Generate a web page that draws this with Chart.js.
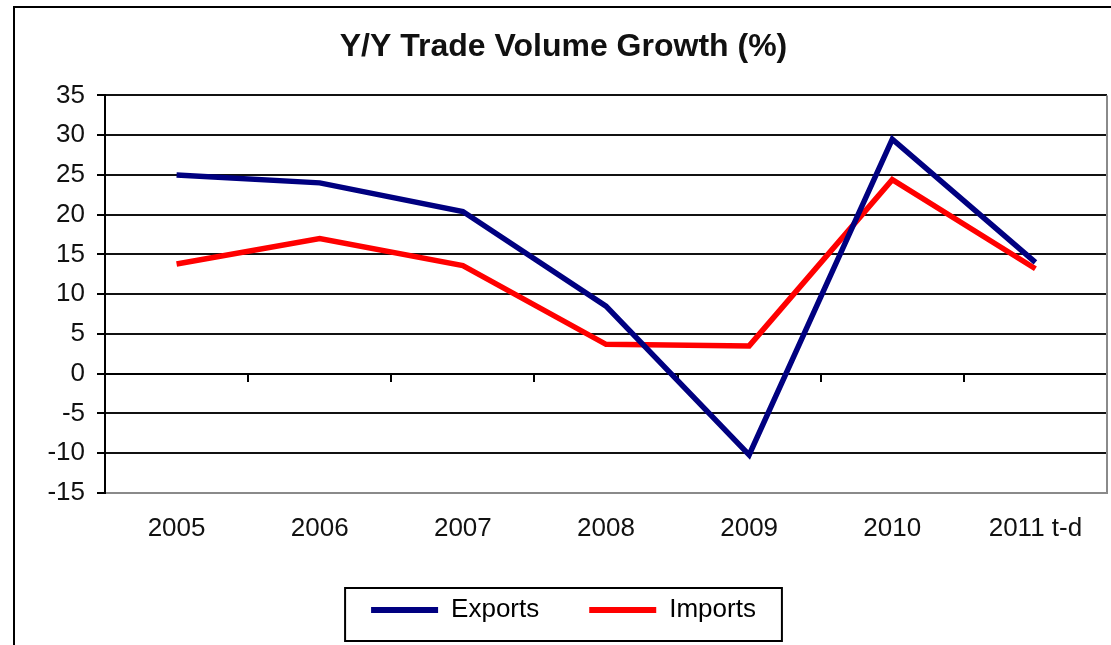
<!DOCTYPE html>
<html>
<head>
<meta charset="utf-8">
<script src="https://cdn.jsdelivr.net/npm/chart.js@4/dist/chart.umd.min.js"></script>
<style>
  html, body { margin: 0; padding: 0; background: #fff; }
  canvas { display: block; }
</style>
</head>
<body>
<canvas id="tradeChart" width="1111" height="645"></canvas>
<script>
// values
const years = ['2005', '2006', '2007', '2008', '2009', '2010', '2011 t-d'];
const exportsGrowth = [25, 24, 20.4, 8.5, -10.2, 29.5, 14];
const importsGrowth = [13.8, 17, 13.6, 3.7, 3.5, 24.4, 13.2];
const yMin = -15;
const yMax = 35;
const yStep = 5;

const FONT = "'Liberation Sans', Arial, sans-serif";

// outer frame, plot border on the right, legend box
const framePlugin = {
    id: 'frame',
    beforeDraw(chart) {
        const c = chart.ctx;
        c.save();
        c.fillStyle = '#fff';
        c.fillRect(0, 0, chart.width, chart.height);
        c.strokeStyle = '#000';
        c.lineWidth = 2;
        c.strokeRect(14, 7, chart.width + 20, chart.height + 20);
        c.restore();
    },
    afterDraw(chart) {
        const c = chart.ctx;
        const area = chart.chartArea;
        c.save();
        c.strokeStyle = '#8a8a8a';
        c.lineWidth = 2;
        c.beginPath();
        c.moveTo(area.right, area.top);
        c.lineTo(area.right, area.bottom);
        c.stroke();

        const boxes = chart.legend.legendHitBoxes;
        if (boxes && boxes.length) {
            const first = boxes[0];
            const last = boxes[boxes.length - 1];
            const mid = first.top + first.height / 2;
            c.strokeStyle = '#000';
            c.lineWidth = 2;
            c.strokeRect(first.left - 26, mid - 22, last.left + last.width - first.left + 52, 53);
        }
        c.restore();
    }
};

const data = {
    labels: years,
    datasets: [{
        label: 'Exports',
        data: exportsGrowth,
        borderColor: '#000080',
        backgroundColor: '#000080',
        borderWidth: 5.5,
        pointRadius: 0,
        tension: 0
    }, {
        label: 'Imports',
        data: importsGrowth,
        borderColor: '#ff0000',
        backgroundColor: '#ff0000',
        borderWidth: 5.5,
        pointRadius: 0,
        tension: 0
    }]
};

const config = {
    type: 'line',
    data: data,
    plugins: [framePlugin],
    options: {
        responsive: false,
        animation: false,
        layout: { padding: { left: 20, right: 4, top: 0, bottom: 12 } },
        scales: {
            x: {
                offset: true,
                grid: { display: false, drawTicks: false },
                border: { display: true, color: '#8a8a8a', width: 2 },
                ticks: { color: '#111', font: { family: FONT, size: 26 }, padding: 20, maxRotation: 0 },
                afterFit(scale) { scale.height = 54; }
            },
            // category axis crossing at zero, with its tick marks
            x0: {
                type: 'category',
                position: { y: 0 },
                offset: true,
                grid: { offset: true, drawOnChartArea: false, drawTicks: true, tickLength: 7, color: '#000', lineWidth: 2 },
                border: { display: true, color: '#000', width: 2 },
                ticks: { display: false }
            },
            y: {
                min: yMin,
                max: yMax,
                ticks: { stepSize: yStep, color: '#111', font: { family: FONT, size: 26 }, padding: 12 },
                grid: {
                    color: (ctx) => (ctx.tick && ctx.tick.value === yMin ? '#8a8a8a' : '#111'),
                    lineWidth: 2,
                    tickLength: 8,
                    tickColor: '#000'
                },
                border: { display: true, color: '#000', width: 2 },
                afterFit(scale) { scale.width = 85; }
            }
        },
        plugins: {
            title: {
                display: true,
                text: 'Y/Y Trade Volume Growth (%)',
                color: '#111',
                font: { family: FONT, size: 32, weight: 'bold' },
                padding: { top: 28, bottom: 29 }
            },
            legend: {
                position: 'bottom',
                labels: {
                    color: '#111',
                    font: { family: FONT, size: 26 },
                    boxWidth: 67,
                    boxHeight: 6,
                    padding: 50,
                    generateLabels(chart) {
                        return chart.data.datasets.map((ds, i) => ({
                            text: ds.label,
                            fillStyle: ds.borderColor,
                            strokeStyle: ds.borderColor,
                            lineWidth: 0,
                            hidden: !chart.isDatasetVisible(i),
                            datasetIndex: i
                        }));
                    }
                }
            },
            tooltip: { enabled: false }
        }
    }
};

const ctx = document.getElementById('tradeChart').getContext('2d');
const tradeChart = new Chart(ctx, config);
</script>
</body>
</html>
